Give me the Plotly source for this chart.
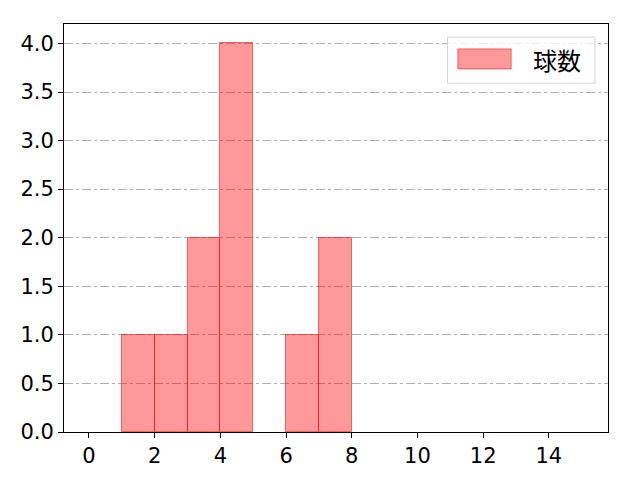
import plotly.graph_objects as go

# histogram bins and counts
bin_left = [1, 2, 3, 4, 5, 6, 7]
counts = [1, 1, 2, 4, 0, 1, 2]
series_name = "球数"
x_ticks = [0, 2, 4, 6, 8, 10, 12, 14]
y_ticks = [0.0, 0.5, 1.0, 1.5, 2.0, 2.5, 3.0, 3.5, 4.0]

fill = "rgba(255,0,0,0.4)"
edge = "rgba(255,0,0,0.55)"
tick_font = "DejaVu Sans"
cjk_font = "Noto Sans CJK JP"

xs = [b for b, c in zip(bin_left, counts) if c > 0]
ys = [c for c in counts if c > 0]

fig = go.Figure()
fig.add_trace(go.Bar(
    x=xs, y=ys, width=1, offset=0,
    marker=dict(color=fill, line=dict(color=edge, width=1)),
    name=series_name, showlegend=False,
))

axis_common = dict(
    showline=True, linecolor="black", linewidth=1, mirror=True,
    ticks="outside", ticklen=5, tickcolor="black",
    tickfont=dict(family=tick_font, size=21, color="black"),
    zeroline=False, automargin=False,
)
fig.update_xaxes(range=[-0.76, 15.8], tickvals=x_ticks, showgrid=False, **axis_common)
fig.update_yaxes(range=[0, 4.2], tickvals=y_ticks, tickformat=".1f",
                 showgrid=True, gridcolor="#b0b0b0", griddash="dashdot", gridwidth=1,
                 **axis_common)

# matplotlib-like legend box
fig.add_shape(type="rect", xref="paper", yref="paper", x0=0.705, x1=0.976, y0=0.855, y1=0.968,
              line=dict(color="#d6d6d6", width=1), fillcolor="rgba(255,255,255,0.8)", layer="above")
fig.add_shape(type="rect", xref="paper", yref="paper", x0=0.724, x1=0.822, y0=0.890, y1=0.939,
              line=dict(color=edge, width=1), fillcolor=fill, layer="above")
fig.add_annotation(xref="paper", yref="paper", x=0.906, y=0.913, text=series_name, showarrow=False,
                   xanchor="center", yanchor="middle",
                   font=dict(family=cjk_font, size=24, color="black"))

# page body adds an 8px offset, so margins are shifted to compensate
fig.update_layout(
    width=640, height=480,
    margin=dict(l=56, r=40, t=16, b=56),
    plot_bgcolor="white", paper_bgcolor="white",
    bargap=0,
)
fig.write_html("out.html")
